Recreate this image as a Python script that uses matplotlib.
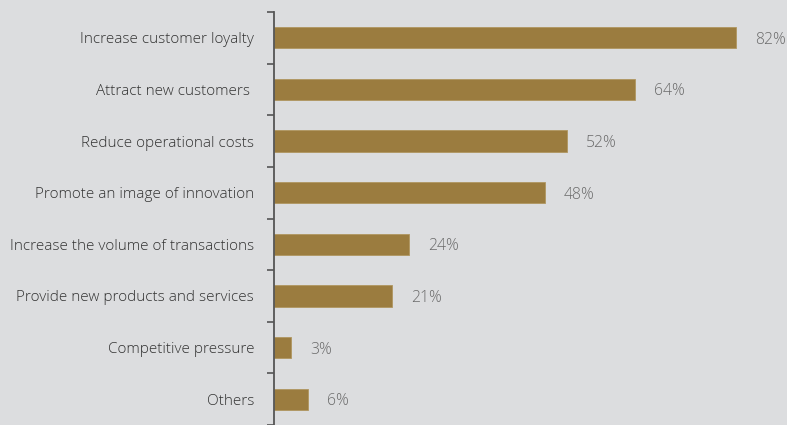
import matplotlib
matplotlib.use("Agg")
import matplotlib.pyplot as plt

# survey answers, percent of respondents
categories = [
    "Increase customer loyalty",
    "Attract new customers ",
    "Reduce operational costs",
    "Promote an image of innovation",
    "Increase the volume of transactions",
    "Provide new products and services",
    "Competitive pressure",
    "Others",
]
values = [82, 64, 52, 48, 24, 21, 3, 6]
value_labels = ["82%", "64%", "52%", "48%", "24%", "21%", "3%", "6%"]

bg = "#dcdddf"
bar_color = "#9b7c3f"

plt.rcParams["font.family"] = ["Open Sans", "DejaVu Sans"]

fig = plt.figure(figsize=(7.87, 4.25), dpi=100, facecolor=bg)
ax = fig.add_axes([274 / 787, 0.0, 513 / 787, 1 - 12 / 425])
ax.set_facecolor(bg)

pos = list(range(len(categories)))
ax.barh(pos, values, height=0.41, color=bar_color, edgecolor="#b09660", linewidth=0.6)

for p, v, lab in zip(pos, values, value_labels):
    ax.text(v + 3.4, p, lab, va="center_baseline", ha="left", fontsize=11.3,
            fontweight="light", color="#6a6a6a")

ax.set_xlim(0, 91)
ax.set_ylim(len(categories) - 0.5, -0.5)

ax.set_yticks(pos)
ax.set_yticklabels(categories, fontsize=11, fontweight="light", color="#333333")
ax.tick_params(axis="y", which="major", length=0, pad=14.4)
ax.set_yticks([p - 0.5 for p in pos] + [len(categories) - 0.5], minor=True)
ax.tick_params(axis="y", which="minor", length=5, width=1.2, color="#555555", direction="out")

ax.set_xticks([])
for side in ["top", "right", "bottom"]:
    ax.spines[side].set_visible(False)
ax.spines["left"].set_color("#555555")
ax.spines["left"].set_linewidth(1.3)

fig.savefig("out.png", dpi=100, facecolor=bg)
